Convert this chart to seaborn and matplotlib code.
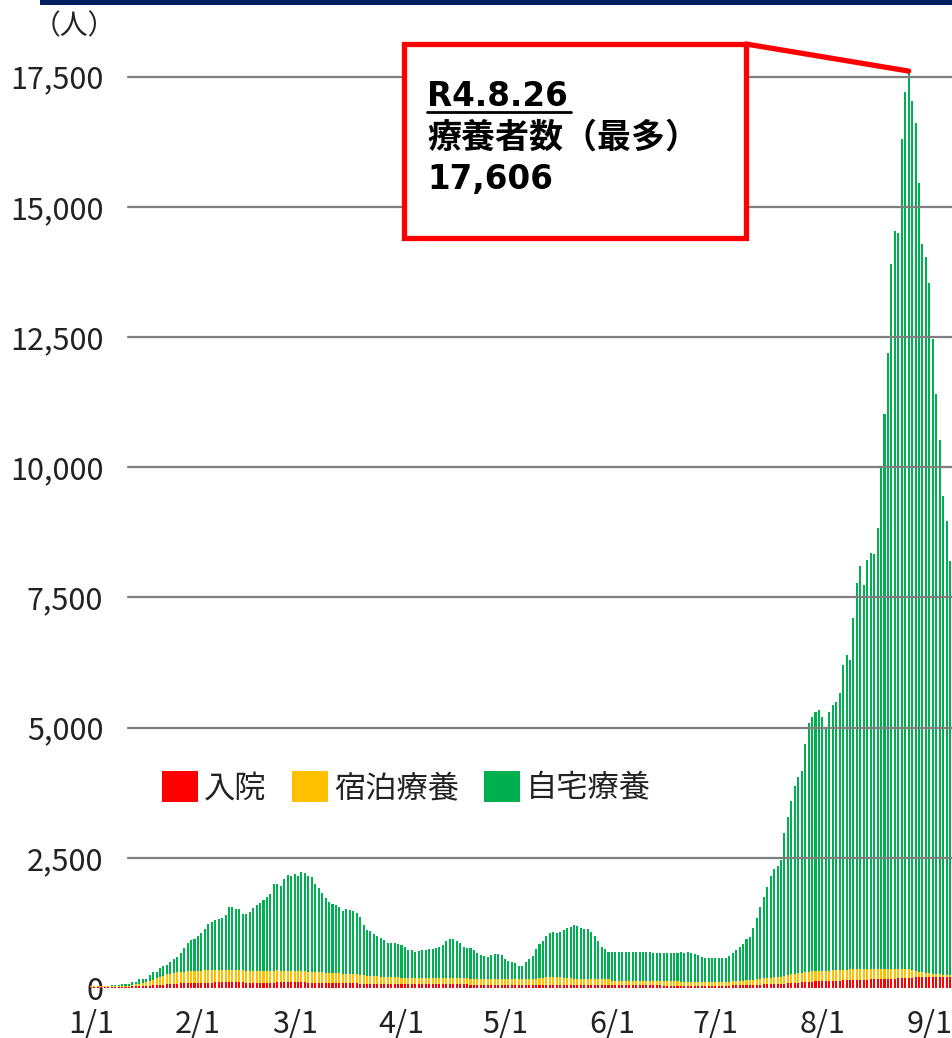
import numpy as np
import pandas as pd
import matplotlib
matplotlib.use("Agg")
import matplotlib.pyplot as plt
import seaborn as sns
from matplotlib.patches import Rectangle, Patch
from matplotlib.lines import Line2D

# ---------------- data (R4 = 2022, Jan 1 .. Sep 7, daily) ----------------
start_date = "2022-01-01"

# 入院 (hospitalised)
hospital = (
    # Jan
    [20] * 10 + [25, 25, 30, 30, 35, 35, 40, 45, 50, 55, 60, 65, 70, 75, 80, 85, 90, 90, 95, 95, 95]
    # Feb
    + [100, 100, 105, 105, 105, 110, 110, 110, 110, 110, 110, 110, 110, 110, 105, 105, 105, 105, 105, 105,
       105, 105, 105, 110, 110, 110, 110, 110]
    # Mar
    + [110, 110, 110, 110, 105, 105, 105, 100, 100, 100, 100, 95, 95, 95, 95, 90, 90, 90, 90, 85,
       85, 85, 85, 80, 80, 80, 80, 80, 75, 75, 75]
    # Apr
    + [75] * 10 + [70] * 10 + [65] * 10
    # May
    + [60] * 21 + [55] * 10
    # Jun
    + [50] * 15 + [45] * 15
    # Jul
    + [45, 45, 45, 45, 45, 50, 50, 50, 55, 55, 60, 60, 65, 65, 70, 70, 75, 75, 80, 80,
       85, 90, 95, 100, 105, 110, 115, 120, 120, 125, 125]
    # Aug
    + [130, 130, 135, 135, 140, 140, 145, 145, 150, 150, 155, 155, 160, 160, 165, 165, 170, 170, 175, 175,
       180, 180, 185, 190, 195, 200, 200, 205, 205, 210, 210]
    # Sep
    + [215, 215, 215, 210, 210, 205, 205]
)

# 宿泊療養 (hotel care)
hotel = (
    [10] * 10 + [15, 20, 30, 40, 50, 60, 70, 90, 110, 130, 150, 170, 190, 200, 210, 215, 220, 225, 230, 230, 230]
    + [235, 235, 235, 235, 235, 230, 230, 230, 230, 230, 230, 230, 230, 230, 230, 230, 230, 230, 230, 230,
       230, 230, 230, 230, 225, 225, 225, 225]
    + [220, 220, 215, 215, 210, 210, 205, 200, 200, 195, 195, 190, 190, 185, 180, 180, 175, 170, 170, 165,
       160, 155, 150, 150, 145, 140, 140, 135, 135, 130, 130]
    + [125] * 10 + [120] * 10 + [115] * 10
    + [110] * 10 + [130, 140, 145, 150, 150, 150, 145, 140, 135, 130, 120] + [110] * 10
    + [90] * 10 + [80] * 10 + [70] * 10
    + [70, 70, 70, 75, 75, 80, 80, 85, 85, 90, 95, 100, 105, 110, 115, 120, 125, 130, 135, 140,
       150, 160, 170, 175, 180, 185, 190, 195, 200, 200, 200]
    + [200, 200, 200, 205, 205, 205, 210, 210, 210, 210, 210, 205, 205, 200, 200, 200, 200, 195, 195, 190,
       190, 185, 180, 180, 175, 170, 150, 130, 110, 90, 75]
    + [65, 60, 55, 50, 45, 40, 40]
)

# 自宅療養 (home care)
home = (
    [5, 5, 5, 10, 10, 15, 20, 25, 30, 40, 30, 30, 55, 50, 80, 75, 65, 115, 145, 130,
     170, 195, 185, 230, 270, 300, 360, 450, 545, 595, 615]
    + [665, 725, 785, 890, 935, 965, 985, 1000, 1060, 1220, 1220, 1170, 1170, 1075, 1085, 1130, 1195, 1260,
       1290, 1355, 1420, 1465, 1665, 1660, 1625, 1750, 1835, 1815]
    + [1860, 1820, 1910, 1875, 1835, 1825, 1690, 1615, 1520, 1425, 1360, 1325, 1310, 1270, 1210, 1240,
       1235, 1225, 1175, 1110, 965, 875, 860, 805, 775, 735, 700, 645, 660, 655, 640]
    + [625, 580, 530, 530, 500, 510, 530, 530, 540, 540, 570, 605, 635, 710, 750, 750, 720, 670, 605, 570,
       580, 550, 500, 455, 435, 420, 455, 475, 470, 455]
    + [380, 350, 320, 305, 260, 255, 320, 385, 445, 570, 655, 710, 795, 840, 865, 855, 870, 915, 950, 990,
       1030, 1025, 995, 975, 965, 915, 835, 745, 630, 575, 535]
    + [560, 560, 560, 560, 560, 560, 560, 550, 550, 550, 560, 560, 545, 545, 545, 550, 555, 555, 555, 555,
       575, 565, 575, 565, 535, 525, 475, 470, 465, 460]
    + [455, 455, 455, 450, 500, 535, 600, 660, 705, 790, 820, 985, 1170, 1385, 1570, 1745, 1950, 2075, 2125,
       2240, 2745, 3040, 3335, 3605, 3775, 3870, 4380, 4765, 4880, 4980, 5015]
    + [4870, 4680, 4955, 5090, 5155, 5315, 5845, 6035, 5940, 6740, 7405, 7740, 7375, 7860, 7995, 7965, 8460,
       9635, 10650, 11835, 13530, 14175, 14125, 15940, 16840, 17236, 16690, 16265, 15145, 13990, 13745]
    + [13250, 12195, 11130, 10270, 9195, 8725, 7945]
)

series_names = ["入院", "宿泊療養", "自宅療養"]
series_colors = ["#FF0000", "#FFC000", "#00B050"]

tick_dates = ["2022-01-01", "2022-02-01", "2022-03-01", "2022-04-01", "2022-05-01",
              "2022-06-01", "2022-07-01", "2022-08-01", "2022-09-01"]
tick_labels = ["1/1", "2/1", "3/1", "4/1", "5/1", "6/1", "7/1", "8/1", "9/1"]
y_ticks = [0, 2500, 5000, 7500, 10000, 12500, 15000, 17500]

peak_date = "2022-08-26"
peak_value = 17606
annot_lines = ["R4.8.26", "療養者数（最多）", "17,606"]

# ---------------- build frame ----------------
n = len(home)
df = pd.DataFrame({
    "day": np.arange(n),
    "hospital": hospital,
    "hotel": hotel,
    "home": home,
})
df["lvl_hotel"] = df["hospital"] + df["hotel"]
df["lvl_home"] = df["lvl_hotel"] + df["home"]

def day_index(d):
    return int((pd.Timestamp(d) - pd.Timestamp(start_date)).days)

# ---------------- figure ----------------
sns.set_theme(style="white")
plt.rcParams["font.family"] = ["Noto Sans CJK JP", "DejaVu Sans"]

W, H = 953, 1038
fig = plt.figure(figsize=(W / 100, H / 100), dpi=100)
ax_left, ax_right = 88, 953
ax_top, ax_bottom = 45, 988
ax = fig.add_axes([ax_left / W, 1 - ax_bottom / H, (ax_right - ax_left) / W, (ax_bottom - ax_top) / H])

bar_w = 0.58
for col, color in zip(["lvl_home", "lvl_hotel", "hospital"], series_colors[::-1]):
    sns.barplot(data=df, x="day", y=col, color=color, width=bar_w, ax=ax,
                native_scale=True, errorbar=None, saturation=1,
                linewidth=0, edgecolor="none", zorder=2)

px_per_day = 3.45
x0 = -(91 - ax_left) / px_per_day
ax.set_xlim(x0, x0 + (ax_right - ax_left) / px_per_day)
ymax = (ax_bottom - ax_top) * (2500 / 130.2)
ax.set_ylim(0, ymax)

# gridlines starting right of the tick labels
grid_start = (128 - ax_left) / (ax_right - ax_left)
for yv in y_ticks[1:]:
    ax.axhline(yv, xmin=grid_start, xmax=1, color="#7f7f7f", lw=1.6, zorder=3)

for s in ax.spines.values():
    s.set_visible(False)
ax.grid(False)

ax.set_yticks(y_ticks)
ax.set_yticklabels([f"{v:,}" for v in y_ticks])
ax.set_xticks([day_index(d) for d in tick_dates])
ax.set_xticklabels(tick_labels)
ax.tick_params(axis="y", length=0, pad=-11, labelsize=22, labelcolor="#222222")
ax.tick_params(axis="x", length=0, pad=15, labelsize=22, labelcolor="#222222")
ax.set_xlabel("")
ax.set_ylabel("")

# unit label
fig.text(33 / W, 1 - 26 / H, "（人）", fontsize=20, ha="left", va="center", color="#222222")

# top navy band
fig.add_artist(Rectangle((40 / W, 1 - 5 / H), (W - 40) / W, 5 / H, transform=fig.transFigure,
                         facecolor="#002060", edgecolor="none", zorder=5))

# legend
handles = [Patch(facecolor=c, edgecolor="none") for c in series_colors]
leg = fig.legend(handles, series_names, loc="center left",
                 bbox_to_anchor=(162 / W, 1 - 788 / H), bbox_transform=fig.transFigure,
                 ncol=3, frameon=False, fontsize=22.5, handlelength=1.15, handleheight=1.15,
                 handletextpad=0.2, columnspacing=0.8, borderpad=0, borderaxespad=0)
for t in leg.get_texts():
    t.set_color("#222222")

# annotation box
bx0, by0, bx1, by1 = 404, 44, 746, 238
fig.add_artist(Rectangle((bx0 / W, 1 - by1 / H), (bx1 - bx0) / W, (by1 - by0) / H,
                         transform=fig.transFigure, facecolor="white", edgecolor="#FF0000",
                         lw=3.8, zorder=6))
ax.annotate("", xy=(day_index(peak_date), peak_value), xycoords="data",
            xytext=(bx1 / W, 1 - by0 / H), textcoords="figure fraction",
            arrowprops=dict(arrowstyle="-", color="#FF0000", lw=3.8, shrinkA=0, shrinkB=0),
            zorder=7, annotation_clip=False)

tx = 427
latin = ["DejaVu Sans", "Noto Sans CJK JP"]
fig.text(tx / W, 1 - 96 / H, annot_lines[0], fontsize=23.5, fontweight="bold", family=latin,
         ha="left", va="center", color="black", zorder=8)
fig.add_artist(Line2D([tx / W, 571 / W], [1 - 112 / H, 1 - 112 / H], transform=fig.transFigure,
                      color="black", lw=2, zorder=8))
fig.text(tx / W, 1 - 137 / H, annot_lines[1], fontsize=24.5, fontweight="bold",
         ha="left", va="center", color="black", zorder=8)
fig.text(tx / W, 1 - 180 / H, annot_lines[2], fontsize=23.5, fontweight="bold", family=latin,
         ha="left", va="center", color="black", zorder=8)

fig.savefig("out.png", dpi=100, facecolor="white")
